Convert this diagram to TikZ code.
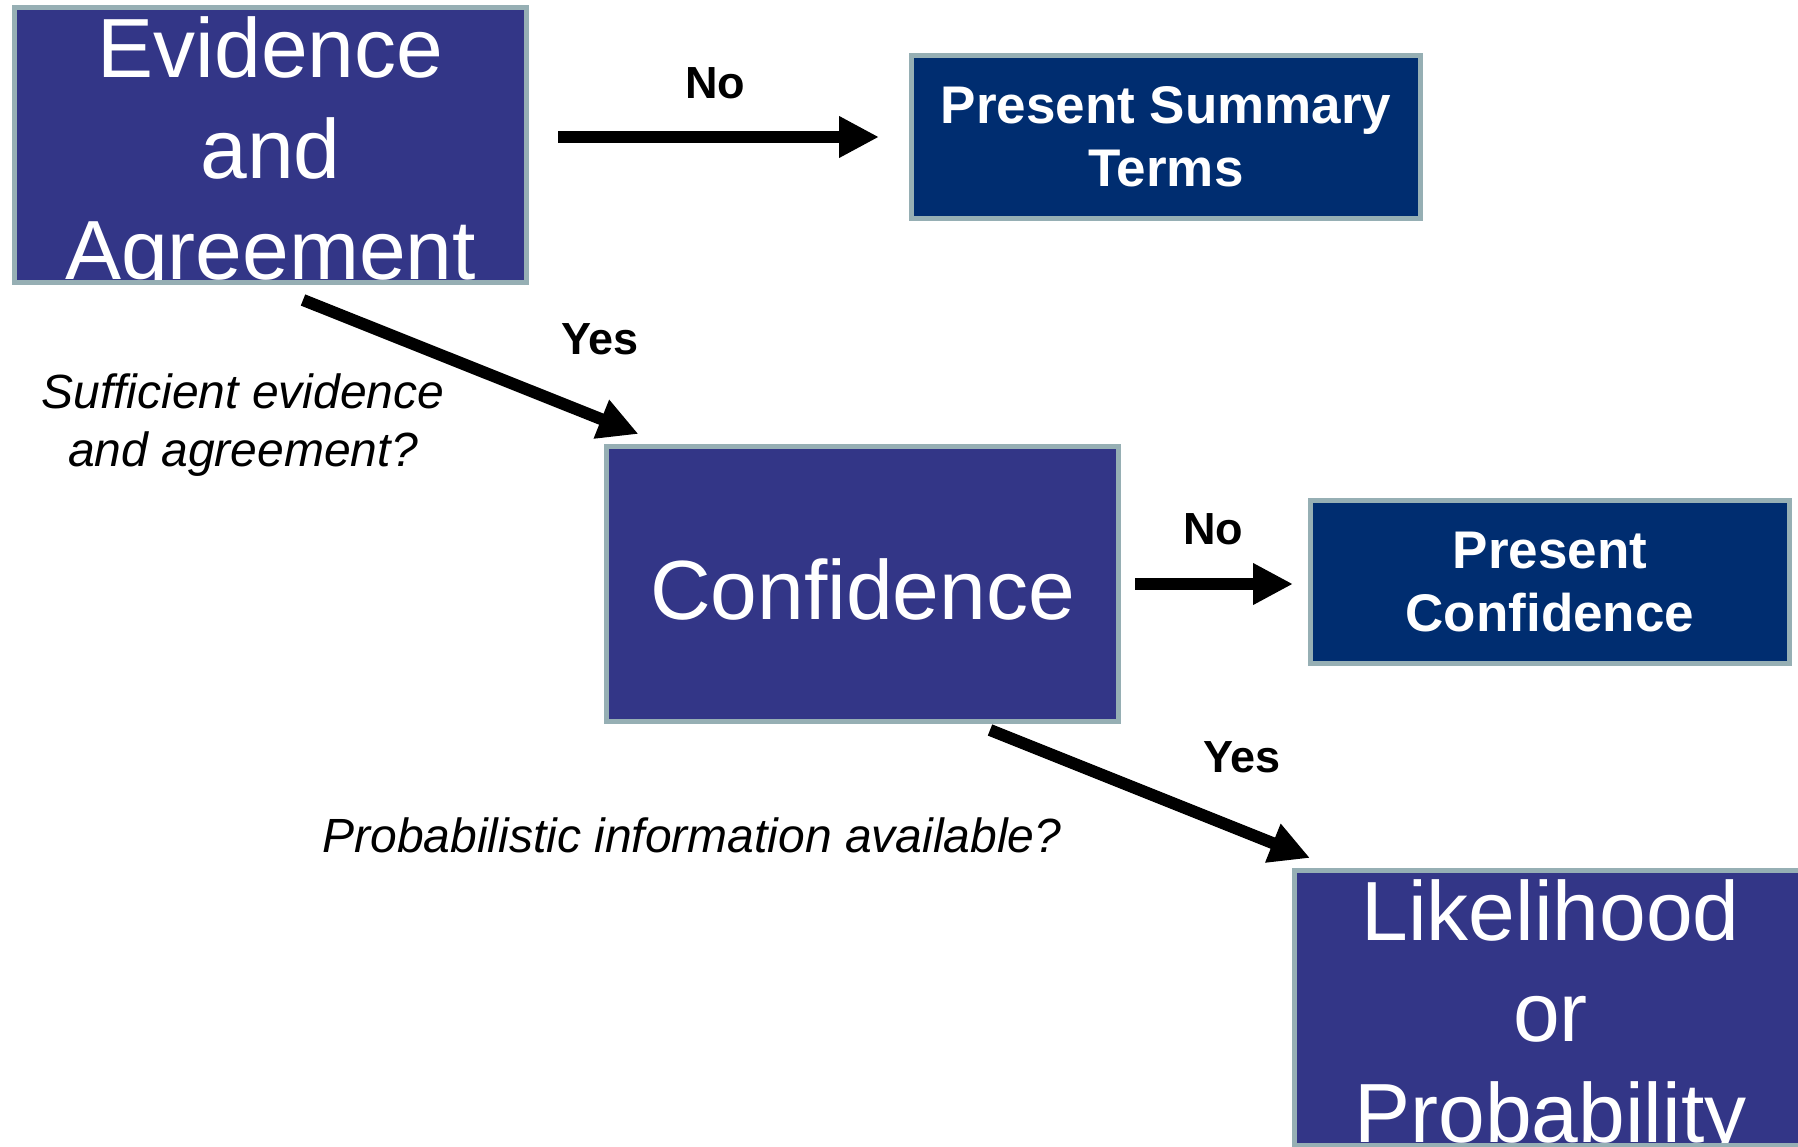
\documentclass[tikz,border=0pt]{standalone}
\usepackage{fontspec}
\setmainfont{Liberation Sans}
\usetikzlibrary{arrows.meta, positioning, calc}

\definecolor{bigblue}{RGB}{51,54,135}
\definecolor{navyblue}{RGB}{0,45,112}
\definecolor{edgegray}{RGB}{150,175,180}

\begin{document}
\begin{tikzpicture}[
    x=1pt, y=-1pt,
    bigbox/.style={rectangle, draw=edgegray, line width=5pt, fill=bigblue, minimum width=512pt, minimum height=275pt, inner sep=0pt, outer sep=0pt},
    smallbox/.style={rectangle, draw=edgegray, line width=5pt, fill=navyblue, minimum height=163pt, inner sep=0pt, outer sep=0pt, align=center, text=white, font=\fontsize{53pt}{63pt}\selectfont\bfseries},
    bigtext/.style={align=center, text=white, inner sep=0pt, font=\fontsize{84pt}{101pt}\selectfont},
    choice/.style={font=\fontsize{45pt}{54pt}\selectfont\bfseries, inner sep=0pt, anchor=base},
    question/.style={font=\fontsize{48pt}{58pt}\selectfont\itshape, align=center, inner sep=0pt},
    arrow/.style={-{Triangle[length=40pt, width=39pt]}, line width=12pt}
]
\useasboundingbox (0,0) rectangle (1798,1147);

% Decision boxes
\node[bigbox, path picture={\node[bigtext] (evidtxt) at ([yshift=-11.5pt]path picture bounding box.center) {Evidence\\and\\Agreement};}] (evid) at (270.5,145) {};
\node[bigbox, path picture={\node[bigtext, anchor=base] (conftxt) at ([yshift=-35pt]path picture bounding box.center) {Confidence};}] (conf) at (862.5,584) {};
\node[bigbox, path picture={\node[bigtext] (liktxt) at ([yshift=-11.5pt]path picture bounding box.center) {Likelihood\\or\\Probability};}] (lik) at (1550.5,1008) {};

% Outcome boxes
\node[smallbox, minimum width=509pt] (summ) at (1166,137) {Present Summary\\Terms};
\node[smallbox, minimum width=479pt] (pconf) at (1550,582) {Present\\Confidence};

% Arrows
\draw[arrow, shorten <=31.5pt, shorten >=32.5pt] (evid.east |- summ.west) -- (summ.west);
\draw[arrow] ([shift={(32.5,17.5)}]evid.south) -- ([shift={(32,-12.5)}]conf.north west);
\draw[arrow, shorten <=16.5pt, shorten >=17.5pt] (conf.east) -- (conf.east -| pconf.west);
\draw[arrow] ([shift={(127.5,8.5)}]conf.south) -- ([shift={(15.5,-12.5)}]lik.north west);

% Labels
\node[choice] (no1) at (715,99) {No};
\node[choice] (yes1) at (600,355) {Yes};
\node[choice] (no2) at (1213,544) {No};
\node[choice] (yes2) at (1242,772) {Yes};
\node[question] (q1) at (243,425) {Sufficient evidence\\and agreement?};
\node[question, anchor=base] (q2) at (692,852) {Probabilistic information available?};

\end{tikzpicture}
\end{document}
